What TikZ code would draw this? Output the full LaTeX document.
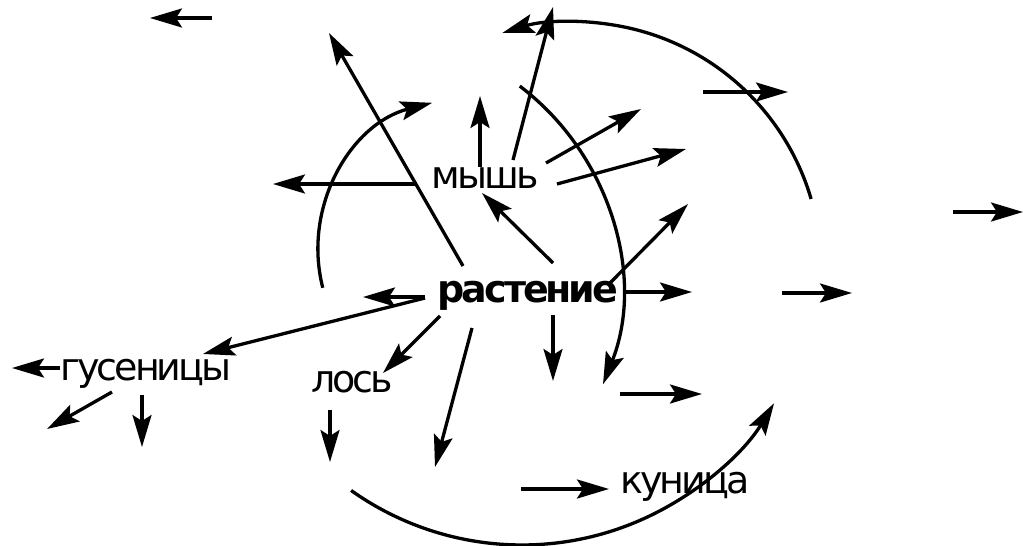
\documentclass[tikz,border=0pt]{standalone}
\usepackage{fontspec}
\setmainfont{DejaVu Sans}[LetterSpace=-8]
\usetikzlibrary{arrows.meta, calc}

\begin{document}
\begin{tikzpicture}[x=1pt, y=-1pt]
	\tikzset{
		arr/.style={line width=3.3pt, -{Stealth[length=32pt, width=19pt, inset=6pt]}},
		word/.style={anchor=base, inner sep=0pt, font=\fontsize{38}{40}\selectfont},
		bword/.style={word, font=\fontsize{38}{40}\selectfont\bfseries}
	}
	\useasboundingbox (0,0) rectangle (1023,546);
	\node[word] (mysh) at (485,188) {мышь};
	\node[bword] (rast) at (528,302) {растение};
	\node[word] (gus) at (146,380) {гусеницы};
	\node[word] (los) at (352,392) {лось};
	\node[word] (kun) at (685,493) {куница};
	\foreach \i/\xa/\ya/\xb/\yb in {1/212/18/150/18, 2/463/266/329/33, 3/417/184/273/184,
		4/480/167/480/96, 5/553/263/482/193, 6/513/160/553/7, 7/546/163/641/109,
		8/557/184/686/149, 9/610/283/688/204, 10/625/292/692/292, 11/782/293/852/293,
		12/953/212/1023/212, 13/703/92/788/92, 14/553/315/553/381, 15/620/394/702/394,
		16/521/489/609/489, 17/425/297/363/297, 18/425/298/203/354, 19/440/316/383/373,
		20/472/328/435/467, 21/60/368/12/368, 22/112/392/47/429, 23/142/395/142/447,
		24/330/410/330/462} {
		\coordinate (t\i) at (\xa,\ya);
		\coordinate (h\i) at (\xb,\yb);
		\draw[arr] (t\i) -- (h\i);
	}
	\foreach \i/\cx/\cy/\r/\sa/\ea in {1/470/250/152/194.4/104.4, 2/365/290/256/52.8/-21.6,
		3/575/268/246/16.3/107.2, 4/522/250/295/-125.4/-31.3} {
		\coordinate (c\i) at (\cx,\cy);
		\coordinate (s\i) at ($(c\i)+(\sa:\r pt)$);
		\draw[arr] (s\i) arc[start angle=\sa, end angle=\ea, radius=\r pt];
	}
\end{tikzpicture}
\end{document}
